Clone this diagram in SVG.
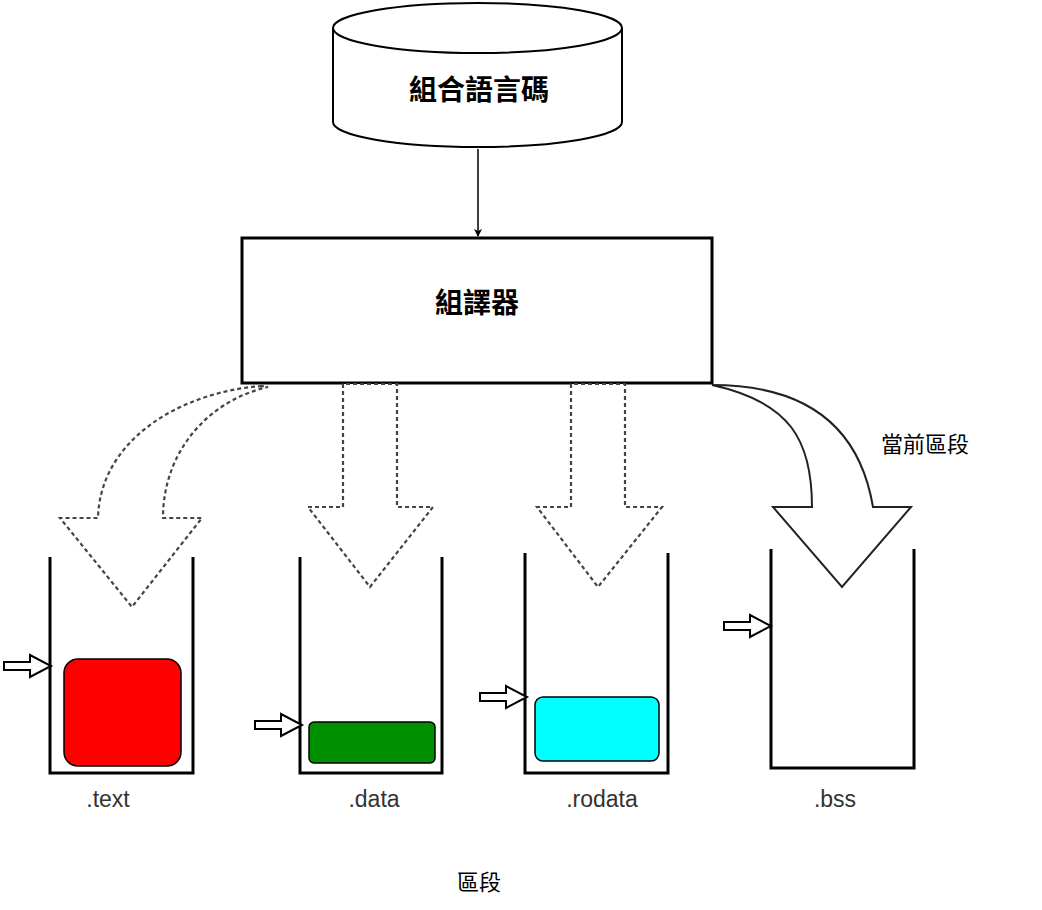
<svg xmlns="http://www.w3.org/2000/svg" width="1042" height="910" viewBox="0 0 1042 910">
<style>
.ol{fill:#fff;stroke:#000;stroke-width:2}
.box{fill:#fff;stroke:#000;stroke-width:3}
.dash{fill:#fff;stroke:#444;stroke-width:2.2;stroke-dasharray:4 3}
.solid{fill:#fff;stroke:#222;stroke-width:2}
.cup{fill:none;stroke:#000;stroke-width:3}
.ptr{fill:#fff;stroke:#000;stroke-width:2}
.cjk{font-family:"Noto Sans CJK TC","Noto Sans CJK SC",sans-serif;fill:#000;text-anchor:middle}
.lab{font-family:"Liberation Sans",Arial,sans-serif;font-size:23px;fill:#333;text-anchor:middle}
.blk{stroke:#000;stroke-width:1.5}
</style>
<defs>
<marker id="ah" markerWidth="10" markerHeight="10" refX="8" refY="5" orient="auto" markerUnits="userSpaceOnUse">
<path d="M1,1 L9,5 L1,9 L3,5 Z" fill="#000"/>
</marker>
<path id="ptr" d="M0,-4 L26,-4 L26,-11 L47,0 L26,11 L26,4 L0,4 Z"/>
</defs>

<g id="source">
<path class="ol" d="M333,28 L333,122 A144.5,25 0 0 0 622,122 L622,28"/>
<ellipse class="ol" cx="477.5" cy="28" rx="144.5" ry="25"/>
<text class="cjk" x="479" y="100" font-size="28" font-weight="bold">組合語言碼</text>
</g>

<g id="assembler">
<rect class="box" x="242" y="238" width="470" height="145"/>
<text class="cjk" x="477" y="313" font-size="28" font-weight="bold">組譯器</text>
</g>

<g id="connectors">
<line x1="478" y1="149" x2="478" y2="236" stroke="#000" stroke-width="1.5" marker-end="url(#ah)"/>
<path class="dash" d="M262,386 C180,392 100,440 98,518 L60,518 L132,607 L202,518 L163,518 C163,450 210,400 268,387 Z"/>
<path class="dash" d="M343,384 L343,507 L308,507 L370,587 L433,507 L397,507 L397,384 Z"/>
<path class="dash" d="M571,384 L571,507 L537,507 L598,587 L662,507 L625,507 L625,384 Z"/>
<path class="solid" d="M712,385 C790,402 812,440 812,507 L773,507 L842,587 L911,507 L873,507 C860,430 810,385 712,385 Z"/>
</g>

<g id="label-current">
<text class="cjk" x="925" y="452" font-size="22">當前區段</text>
</g>

<g id="text-section">
<polyline class="cup" points="50,557 50,773 193,773 193,557"/>
<rect x="64" y="659" width="117" height="107" rx="14" fill="#ff0000" class="blk"/>
<use href="#ptr" class="ptr" transform="translate(4,666)"/>
<text class="lab" x="108" y="807">.text</text>
</g>

<g id="data-section">
<polyline class="cup" points="300,557 300,773 442,773 442,557"/>
<rect x="309" y="722" width="126" height="41" rx="5" fill="#008f00" class="blk"/>
<use href="#ptr" class="ptr" transform="translate(255,725)"/>
<text class="lab" x="374" y="807">.data</text>
</g>

<g id="rodata-section">
<polyline class="cup" points="525,553 525,773 668,773 668,553"/>
<rect x="535" y="697" width="124" height="64" rx="8" fill="#00ffff" class="blk"/>
<use href="#ptr" class="ptr" transform="translate(480,697)"/>
<text class="lab" x="602" y="807">.rodata</text>
</g>

<g id="bss-section">
<polyline class="cup" points="771,549 771,768 914,768 914,549"/>
<use href="#ptr" class="ptr" transform="translate(724,626)"/>
<text class="lab" x="835" y="807">.bss</text>
</g>

<g id="caption">
<text class="cjk" x="479" y="890" font-size="22">區段</text>
</g>
</svg>
